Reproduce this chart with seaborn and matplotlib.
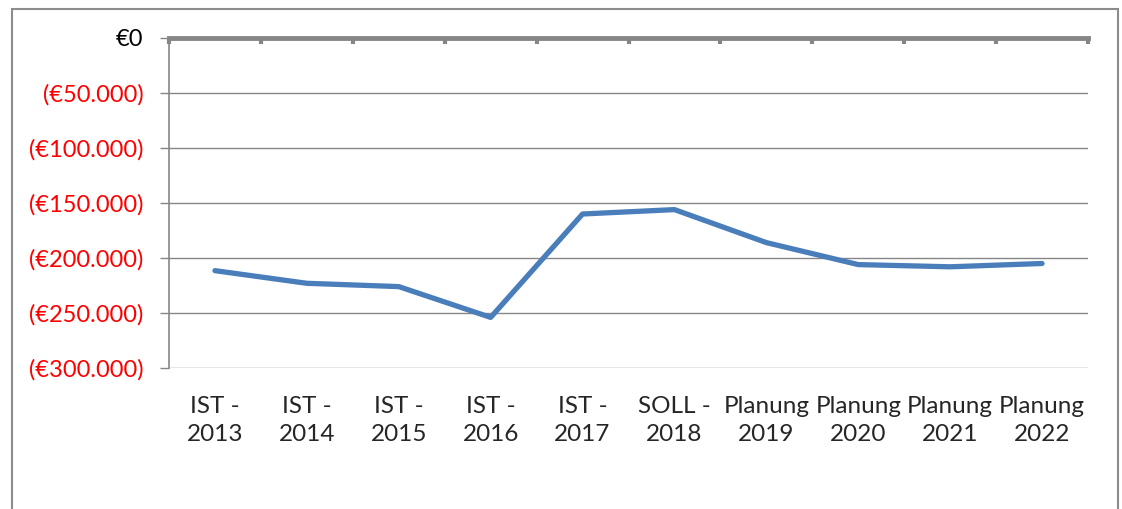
import numpy as np
import pandas as pd
import matplotlib.pyplot as plt
import seaborn as sns
from matplotlib.patches import Rectangle
from matplotlib.ticker import FixedLocator

# chart values
kategorien = ["IST -\n2013", "IST -\n2014", "IST -\n2015", "IST -\n2016", "IST -\n2017",
              "SOLL -\n2018", "Planung\n2019", "Planung\n2020", "Planung\n2021", "Planung\n2022"]
ergebnis = [-211500, -223000, -226000, -254000, -160000, -156000, -186000, -206000, -208000, -205000]
y_ticks = [0, -50000, -100000, -150000, -200000, -250000, -300000]

sns.set_style("white")
plt.rcParams['font.family'] = ['Lato', 'DejaVu Sans']

df = pd.DataFrame({"kategorie": kategorien, "wert": ergebnis})

fig = plt.figure(figsize=(11.22, 5.09), dpi=100)
ax = fig.add_axes([169/1122, 1 - 368/509, (1088 - 169)/1122, (368 - 38)/509])

sns.lineplot(data=df, x="kategorie", y="wert", sort=False, color="#4a7ebb",
             linewidth=3.8, ax=ax, zorder=3)

ax.set_xlim(-0.5, len(kategorien) - 0.5)
ax.set_ylim(-300000, 0)
ax.set_yticks(y_ticks)
ax.yaxis.grid(True, color="#868686", linewidth=1.0)
ax.set_xlabel("")
ax.set_ylabel("")

def fmt(v):
    if v == 0:
        return "€0"
    return "(€" + f"{abs(v):,.0f}".replace(",", ".") + ")"

ax.set_yticklabels([fmt(v) for v in y_ticks])
for lbl, v in zip(ax.get_yticklabels(), y_ticks):
    lbl.set_color("black" if v == 0 else "#ff0000")
    lbl.set_fontsize(17)

ax.tick_params(axis="y", left=True, length=6.5, width=1, color="#868686", pad=12)

# category boundaries as ticks on the zero line at top
ax.xaxis.set_minor_locator(FixedLocator(np.arange(-0.5, len(kategorien), 1.0)))
ax.tick_params(axis="x", which="major", length=0, pad=20, labelsize=17.5)
ax.tick_params(axis="x", which="minor", top=True, bottom=False, direction="in",
               length=4.5, width=3, color="#868686")
for lbl in ax.get_xticklabels():
    lbl.set_linespacing(1.45)

for side in ["right", "bottom"]:
    ax.spines[side].set_visible(False)
ax.spines["left"].set_color("#868686")
ax.spines["left"].set_linewidth(1.2)
ax.spines["top"].set_color("#868686")
ax.spines["top"].set_linewidth(3.5)

# outer chart frame
frame = Rectangle((12/1122, -0.2), (1118 - 12)/1122, 1.2 - 9/509, transform=fig.transFigure,
                  fill=False, edgecolor="#8c8c8c", linewidth=1.5)
fig.patches.append(frame)

fig.savefig("out.png", dpi=100)
